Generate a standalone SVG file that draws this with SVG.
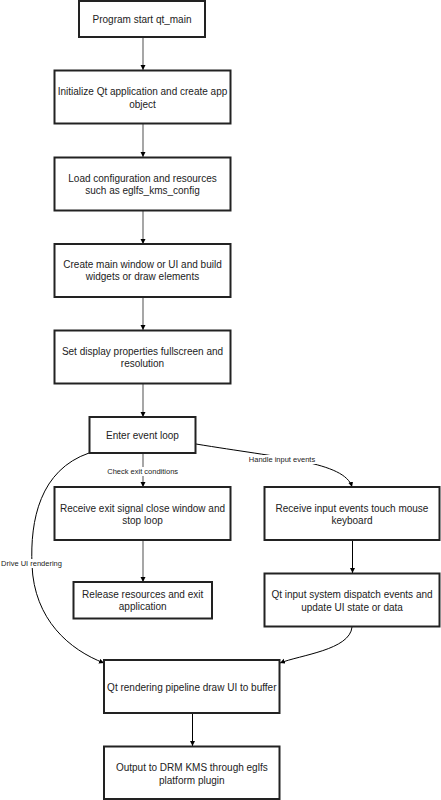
<svg xmlns="http://www.w3.org/2000/svg" width="441" height="800" viewBox="0 0 441 800">
<style>
.box rect{fill:#fff;stroke:#222;stroke-width:2}
.box text{font-family:"Liberation Sans",Arial,sans-serif;font-size:10px;fill:#222;text-anchor:middle}
.edge{fill:none;stroke:#000;stroke-width:1}
.edge.g{stroke:#777;stroke-width:1.3}
.lbl{font-family:"Liberation Sans",Arial,sans-serif;font-size:7.5px;fill:#222;text-anchor:middle}
.lblbg{fill:#fff}
</style>
<defs>
<marker id="ah" markerUnits="userSpaceOnUse" markerWidth="6" markerHeight="6" refX="5" refY="2.5" orient="auto">
<path d="M0,0 L5,2.5 L0,5 z" fill="#000"/>
</marker>
</defs>
<rect width="441" height="800" fill="#fff"/>
<g id="connectors">
<line class="edge g" x1="143" y1="38" x2="143" y2="70" marker-end="url(#ah)"/>
<line class="edge g" x1="143" y1="124" x2="143" y2="157" marker-end="url(#ah)"/>
<line class="edge g" x1="143" y1="211" x2="143" y2="244" marker-end="url(#ah)"/>
<line class="edge g" x1="143" y1="297" x2="143" y2="330" marker-end="url(#ah)"/>
<line class="edge g" x1="143" y1="384" x2="143" y2="417" marker-end="url(#ah)"/>
<line class="edge g" x1="143" y1="453" x2="143" y2="487" marker-end="url(#ah)"/>
<line class="edge g" x1="143" y1="540" x2="143" y2="582" marker-end="url(#ah)"/>
<line class="edge" x1="352.5" y1="540" x2="352.5" y2="573" marker-end="url(#ah)"/>
<line class="edge" x1="192.5" y1="713" x2="192.5" y2="746" marker-end="url(#ah)"/>
<path class="edge" d="M196,444 C280,458 345,462 352,487" marker-end="url(#ah)"/>
<path class="edge" d="M89,453 C40,470 30,520 32,565 C34,620 70,650 104,663" marker-end="url(#ah)"/>
<path class="edge" d="M352,627 C350,650 300,655 280,663" marker-end="url(#ah)"/>
<rect class="lblbg" x="107" y="467" width="71" height="9"/>
<text class="lbl" x="142.7" y="473.7">Check exit conditions</text>
<rect class="lblbg" x="248" y="455" width="68" height="9"/>
<text class="lbl" x="282" y="461.7">Handle input events</text>
<rect class="lblbg" x="1" y="559" width="61" height="9"/>
<text class="lbl" x="31.5" y="566">Drive UI rendering</text>
</g>
<g id="n1" class="box"><rect x="79" y="1" width="126" height="36"/><text x="142" y="23">Program start qt_main</text></g>
<g id="n2" class="box"><rect x="54.5" y="70.5" width="176" height="53"/><text x="142.5" y="95.2">Initialize Qt application and create app</text><text x="142.5" y="107.6">object</text></g>
<g id="n3" class="box"><rect x="54.5" y="157.5" width="176" height="53"/><text x="142.5" y="181.8">Load configuration and resources</text><text x="142.5" y="194.2">such as eglfs_kms_config</text></g>
<g id="n4" class="box"><rect x="54.5" y="244" width="176" height="53"/><text x="142.5" y="268">Create main window or UI and build</text><text x="142.5" y="280.4">widgets or draw elements</text></g>
<g id="n5" class="box"><rect x="54.5" y="330.5" width="176" height="53"/><text x="142.5" y="354.5">Set display properties fullscreen and</text><text x="142.5" y="366.9">resolution</text></g>
<g id="n6" class="box"><rect x="89.5" y="417" width="106" height="36"/><text x="142.5" y="439.2">Enter event loop</text></g>
<g id="n7" class="box"><rect x="54.5" y="487" width="176" height="53"/><text x="142.5" y="511.5">Receive exit signal close window and</text><text x="142.5" y="523.9">stop loop</text></g>
<g id="n8" class="box"><rect x="264.5" y="487" width="175" height="53"/><text x="352" y="511.5">Receive input events touch mouse</text><text x="352" y="523.9">keyboard</text></g>
<g id="n9" class="box"><rect x="73.5" y="582" width="138.5" height="36.5"/><text x="142.7" y="597.8">Release resources and exit</text><text x="142.7" y="610.2">application</text></g>
<g id="n10" class="box"><rect x="264.5" y="573.5" width="175" height="53"/><text x="352" y="598.2">Qt input system dispatch events and</text><text x="352" y="610.6">update UI state or data</text></g>
<g id="n11" class="box"><rect x="104" y="660" width="175.5" height="53"/><text x="191.8" y="690.8">Qt rendering pipeline draw UI to buffer</text></g>
<g id="n12" class="box"><rect x="104" y="746.5" width="175.5" height="52.5"/><text x="191.8" y="771.2">Output to DRM KMS through eglfs</text><text x="191.8" y="783.6">platform plugin</text></g>
</svg>
